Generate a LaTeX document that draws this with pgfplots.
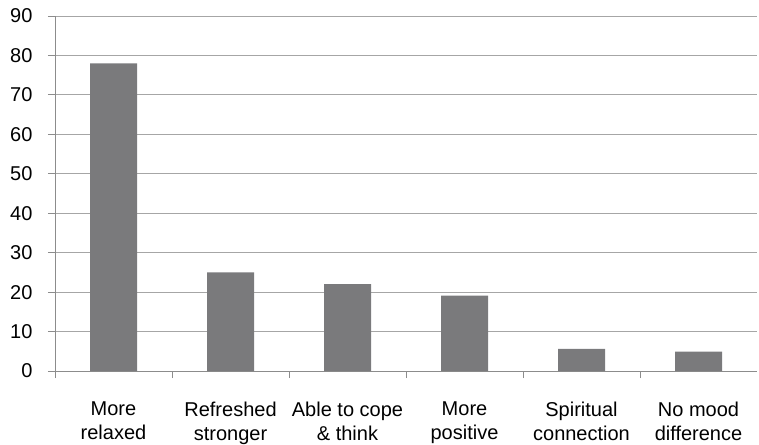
\documentclass[border=0pt]{standalone}
\usepackage{fontspec}
\setmainfont{Liberation Sans}
\usepackage{pgfplots}
\pgfplotsset{compat=1.18}
\definecolor{barfill}{HTML}{7A7A7C}
\definecolor{gridc}{HTML}{A6A6A6}
\definecolor{axisc}{HTML}{8C8C8C}
\begin{document}
\begin{tikzpicture}
\begin{axis}[
  width=702bp, height=355bp,
  scale only axis,
  tick label style={font=\fontsize{20bp}{24bp}\selectfont},
  /pgf/number format/assume math mode=true,
  ymin=0, ymax=90, ytick={0,10,...,90},
  xmin=-0.5, xmax=5.5,
  xtick={0,...,5},
  xticklabels={{More\\relaxed},{Refreshed\\stronger},{Able to cope\\\& think},{More\\positive},{Spiritual\\connection},{No mood\\difference}},
  xticklabel style={align=center, yshift=-20bp},
  major x tick style={draw=none},
  minor xtick={-0.5,0.5,...,4.5},
  minor x tick style={axisc, line width=0.8bp},
  axis x line*=bottom, axis y line*=left,
  axis line style={axisc, line width=0.8bp},
  tick align=outside,
  major tick length=7bp, minor tick length=7bp,
  y tick style={axisc, line width=0.8bp},
  yticklabel style={xshift=-12bp},
  ymajorgrids, grid style={gridc, line width=0.8bp},
  ybar, bar width=47bp,
]
\addplot[fill=barfill, draw=none] coordinates {(0,78) (1,25) (2,22) (3,19.1) (4,5.6) (5,4.9)};
\end{axis}
\pgfresetboundingbox
\path ([xshift=-55bp,yshift=-73bp]current axis.south west) rectangle ([xshift=2bp,yshift=16bp]current axis.north east);
\end{tikzpicture}
\end{document}
